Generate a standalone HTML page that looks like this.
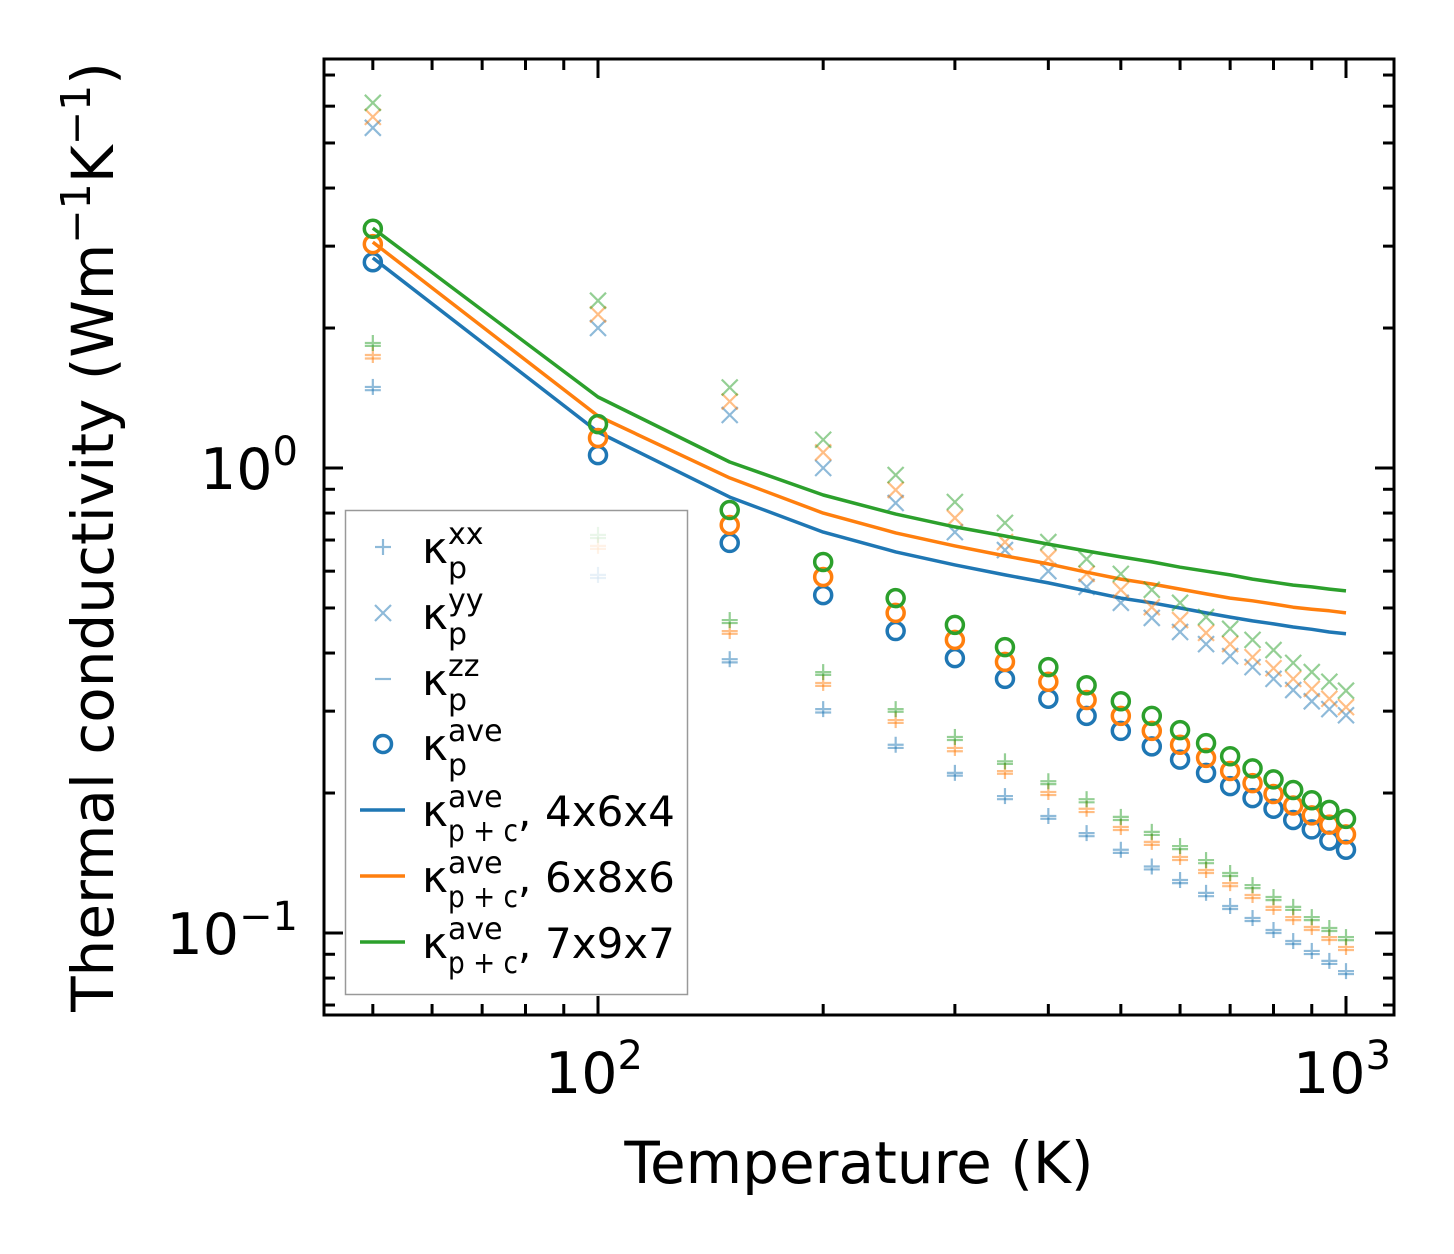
<!DOCTYPE html>
<html><head><meta charset="utf-8"><style>
html,body{margin:0;padding:0;background:#fff;}
svg{display:block;font-family:"DejaVu Sans","Liberation Sans",sans-serif;}
</style></head><body>
<svg id="chart" width="1454" height="1254" viewBox="0 0 1454 1254" xmlns="http://www.w3.org/2000/svg">
<rect width="1454" height="1254" fill="#fff"/>
<g id="plot"></g>
<g id="axes"></g>
<g id="legend"></g>
<text x="859" y="1183" font-size="58" text-anchor="middle" fill="#000">Temperature (K)</text>
<text transform="translate(113,537) rotate(-90)" font-size="58" text-anchor="middle" fill="#000">Thermal conductivity (Wm<tspan dy="-23" font-size="41">−1</tspan><tspan dy="23">K</tspan><tspan dy="-23" font-size="41">−1</tspan><tspan dy="23">)</tspan></text>
</svg>
<script>
const temps = [50,100,150,200,250,300,350,400,450,500,550,600,650,700,750,800,850,900,950,1000];
const seriesNames = ['4x6x4','6x8x6','7x9x7'];
const colors = ['#1f77b4','#ff7f0e','#2ca02c'];
const xxBlue = [1.494,0.589,0.388,0.303,0.254,0.221,0.197,0.1785,0.164,0.151,0.139,0.130,0.122,0.1143,0.1077,0.1015,0.0961,0.0915,0.0871,0.0828];
const xxOrange = [1.75,0.680,0.446,0.345,0.287,0.250,0.223,0.201,0.185,0.169,0.157,0.1457,0.1366,0.128,0.1207,0.1138,0.1082,0.103,0.098,0.0933];
const xxGreen = [1.857,0.718,0.471,0.364,0.303,0.264,0.234,0.212,0.194,0.1777,0.165,0.1538,0.1435,0.1346,0.1268,0.1195,0.1138,0.1082,0.1025,0.098];
const zzBlue = [1.47,0.580,0.382,0.298,0.250,0.218,0.194,0.176,0.1615,0.1487,0.137,0.128,0.120,0.1126,0.1061,0.100,0.0947,0.0901,0.0858,0.0816];
const zzOrange = [1.72,0.670,0.440,0.340,0.283,0.246,0.220,0.198,0.182,0.1665,0.1547,0.1435,0.1346,0.1261,0.1189,0.1121,0.1066,0.1015,0.0966,0.0919];
const zzGreen = [1.83,0.707,0.464,0.359,0.299,0.260,0.231,0.209,0.191,0.175,0.1625,0.1515,0.1413,0.1326,0.1249,0.1177,0.1121,0.1066,0.101,0.0965];
const yyBlue = [5.39,2.00,1.30,1.00,0.841,0.728,0.666,0.600,0.555,0.513,0.476,0.444,0.418,0.394,0.373,0.352,0.333,0.315,0.303,0.294];
const yyOrange = [5.69,2.14,1.39,1.08,0.897,0.781,0.693,0.641,0.592,0.547,0.502,0.471,0.442,0.418,0.392,0.371,0.352,0.335,0.319,0.306];
const yyGreen = [6.10,2.29,1.49,1.15,0.966,0.845,0.762,0.693,0.637,0.592,0.547,0.513,0.478,0.451,0.427,0.406,0.381,0.364,0.347,0.332];
const aveBlue = [2.77,1.066,0.69,0.533,0.446,0.39,0.352,0.319,0.293,0.272,0.252,0.236,0.221,0.207,0.195,0.185,0.175,0.167,0.158,0.151];
const aveOrange = [3.03,1.16,0.754,0.583,0.488,0.427,0.383,0.347,0.317,0.293,0.272,0.254,0.238,0.223,0.210,0.199,0.188,0.179,0.171,0.163];
const aveGreen = [3.27,1.243,0.812,0.628,0.525,0.460,0.412,0.373,0.341,0.315,0.293,0.273,0.256,0.240,0.226,0.214,0.203,0.193,0.184,0.176];
const pcBlue = [2.83,1.195,0.866,0.728,0.660,0.619,0.589,0.566,0.544,0.525,0.513,0.500,0.488,0.478,0.469,0.462,0.455,0.450,0.444,0.440];
const pcOrange = [3.06,1.294,0.952,0.800,0.725,0.680,0.647,0.622,0.597,0.577,0.563,0.549,0.536,0.525,0.518,0.510,0.502,0.497,0.493,0.488];
const pcGreen = [3.28,1.421,1.030,0.875,0.796,0.747,0.714,0.686,0.663,0.644,0.628,0.612,0.600,0.589,0.577,0.568,0.560,0.555,0.549,0.544];
const xTickLabels = ['2','3'];
const yTickLabels = ['−1','0'];

const NS='http://www.w3.org/2000/svg';
const L=324,R=1394,T=59,B=1015;
function X(t){return 598+(Math.log10(t)-2)*748;}
function Y(v){return 468-Math.log10(v)*465;}
function mk(tag,attrs,parent){const e=document.createElementNS(NS,tag);for(const k in attrs)e.setAttribute(k,attrs[k]);parent.appendChild(e);return e;}
const plot=document.getElementById('plot'),axes=document.getElementById('axes'),legend=document.getElementById('legend');
const xx=[xxBlue,xxOrange,xxGreen],zz=[zzBlue,zzOrange,zzGreen],yy=[yyBlue,yyOrange,yyGreen],ave=[aveBlue,aveOrange,aveGreen],pc=[pcBlue,pcOrange,pcGreen];
const h=8;
function plus(x,y,c,parent){const g=mk('g',{stroke:c,'stroke-width':2.2,opacity:0.5},parent);


mk('line',{x1:x-h,y1:y,x2:x+h,y2:y},g);mk('line',{x1:x,y1:y-h,x2:x,y2:y+h},g);}
function cross(x,y,c,parent){const g=mk('g',{stroke:c,'stroke-width':2.2,opacity:0.5},parent);


mk('line',{x1:x-h,y1:y-h,x2:x+h,y2:y+h},g);mk('line',{x1:x-h,y1:y+h,x2:x+h,y2:y-h},g);}
function dash(x,y,c,parent){const e=mk('line',{x1:x-h,y1:y,x2:x+h,y2:y,stroke:c,'stroke-width':2.2,opacity:0.5},parent);

}
function circ(x,y,c,parent){const e=mk('circle',{cx:x,cy:y,r:8.5,fill:'none',stroke:c,'stroke-width':3.5},parent);

}
const clip=mk('clipPath',{id:'clipA'},plot);mk('rect',{x:L,y:T,width:R-L,height:B-T},clip);
const pg=mk('g',{'clip-path':'url(#clipA)'},plot);
for(let s=0;s<3;s++){
  const c=colors[s];
  temps.forEach((t,i)=>{plus(X(t),Y(xx[s][i]),c,pg);cross(X(t),Y(yy[s][i]),c,pg);dash(X(t),Y(zz[s][i]),c,pg);});
  temps.forEach((t,i)=>circ(X(t),Y(ave[s][i]),c,pg));
  const pl=mk('polyline',{points:temps.map((t,i)=>X(t).toFixed(1)+','+Y(pc[s][i]).toFixed(1)).join(' '),fill:'none',stroke:c,'stroke-width':3.5,'stroke-linejoin':'round'},pg);
  
  
}
const tk={stroke:'#000','stroke-width':3};
[40,50,60,70,80,90,100,200,300,400,500,600,700,800,900,1000].forEach(t=>{
  const x=X(t); if(x<L||x>R)return; const major=(t===100||t===1000); const len=major?19:11;
  mk('line',Object.assign({x1:x,y1:B,x2:x,y2:B-len},tk),axes);
  mk('line',Object.assign({x1:x,y1:T,x2:x,y2:T+len},tk),axes);
});
[0.07,0.08,0.09,0.1,0.2,0.3,0.4,0.5,0.6,0.7,0.8,0.9,1,2,3,4,5,6,7].forEach(v=>{
  const y=Y(v); if(y<T||y>B)return; const major=(v===0.1||v===1); const len=major?19:11;
  mk('line',Object.assign({x1:L,y1:y,x2:L+len,y2:y},tk),axes);
  mk('line',Object.assign({x1:R,y1:y,x2:R-len,y2:y},tk),axes);
});
const frame=mk('rect',{x:L,y:T,width:R-L,height:B-T,fill:'none',stroke:'#000','stroke-width':3},axes);


[100,1000].forEach((t,i)=>{const tx=mk('text',{x:X(t)-4,y:1093,'font-size':57,'text-anchor':'middle',fill:'#000'},axes);


tx.innerHTML='10<tspan dy="-24" font-size="40">'+xTickLabels[i]+'</tspan>';});
[0.1,1].forEach((v,i)=>{const tx=mk('text',{x:298,y:Y(v)+21,'font-size':57,'text-anchor':'end',fill:'#000'},axes);


tx.innerHTML='10<tspan dy="-24" font-size="40">'+yTickLabels[i]+'</tspan>';});
const box=mk('rect',{x:345.5,y:510.5,width:342,height:484,fill:'#fff','fill-opacity':0.8,stroke:'#999','stroke-width':1.5},legend);


const rows=[['xx',''],['yy',''],['zz',''],['ave',''],['ave','4x6x4'],['ave','6x8x6'],['ave','7x9x7']];
const rowY=[563,629,695,760,826,892,958];
rows.forEach((r,i)=>{
  const y=rowY[i]-16;
  const g=mk('g',{},legend);
  
  
  if(i===0)plus(383,y,colors[0],g);
  if(i===1)cross(383,y,colors[0],g);
  if(i===2)dash(383,y,colors[0],g);
  if(i===3)circ(383,y,colors[0],g);
  if(i>=4)mk('line',{x1:360,y1:y,x2:405,y2:y,stroke:colors[i-4],'stroke-width':3.5},g);
  mk('text',{x:422,y:rowY[i],'font-size':44,fill:'#000'},g).textContent='κ';
  mk('text',{x:448,y:rowY[i]-19,'font-size':30,fill:'#000'},g).textContent=r[0];
  const sub=mk('text',{x:448,y:rowY[i]+15,'font-size':30,fill:'#000'},g);
  if(i>=4){sub.setAttribute('textLength','70');sub.setAttribute('lengthAdjust','spacingAndGlyphs');sub.textContent='p + c';
    mk('text',{x:518,y:rowY[i],'font-size':42,fill:'#000'},g).textContent=',';
    mk('text',{x:545,y:rowY[i],'font-size':42,fill:'#000'},g).textContent=r[1];
  } else sub.textContent='p';
});
</script>
</body></html>
